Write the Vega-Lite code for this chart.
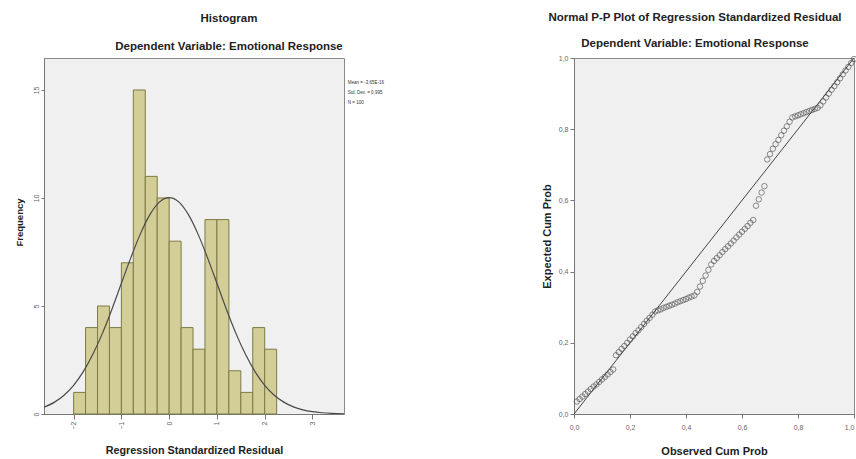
{
  "$schema": "https://vega.github.io/schema/vega-lite/v6.json",
  "background": "white",
  "padding": {"left": 13, "top": 11, "right": 0, "bottom": 0},
  "spacing": 155,
  "config": {
    "font": "Liberation Sans",
    "view": {"fill": "#f0f0f0", "stroke": "#8a8a8a", "strokeWidth": 1},
    "axis": {"labelFont": "Liberation Sans", "titleFont": "Liberation Sans", "grid": false, "domainColor": "#777", "tickColor": "#777", "labelColor": "#666", "titleColor": "#222"}
  },
  "hconcat": [
    {
      "width": 300,
      "height": 356,
      "title": {"text": "Histogram", "subtitle": "Dependent Variable: Emotional Response", "dx": 35, "fontSize": 11.5, "fontWeight": "bold", "color": "#222", "subtitleFontSize": 11.5, "subtitleFontWeight": "bold", "subtitleColor": "#222", "subtitlePadding": 16, "offset": 6},
      "layer": [
        {
          "data": {"values": [
            {"bin_start": -2.0, "bin_end": -1.75, "count": 1},
            {"bin_start": -1.75, "bin_end": -1.5, "count": 4},
            {"bin_start": -1.5, "bin_end": -1.25, "count": 5},
            {"bin_start": -1.25, "bin_end": -1.0, "count": 4},
            {"bin_start": -1.0, "bin_end": -0.75, "count": 7},
            {"bin_start": -0.75, "bin_end": -0.5, "count": 15},
            {"bin_start": -0.5, "bin_end": -0.25, "count": 11},
            {"bin_start": -0.25, "bin_end": 0.0, "count": 10},
            {"bin_start": 0.0, "bin_end": 0.25, "count": 8},
            {"bin_start": 0.25, "bin_end": 0.5, "count": 4},
            {"bin_start": 0.5, "bin_end": 0.75, "count": 3},
            {"bin_start": 0.75, "bin_end": 1.0, "count": 9},
            {"bin_start": 1.0, "bin_end": 1.25, "count": 9},
            {"bin_start": 1.25, "bin_end": 1.5, "count": 2},
            {"bin_start": 1.5, "bin_end": 1.75, "count": 1},
            {"bin_start": 1.75, "bin_end": 2.0, "count": 4},
            {"bin_start": 2.0, "bin_end": 2.25, "count": 3}
          ]},
          "mark": {"type": "rect", "fill": "#d3ce97", "stroke": "#7d7a45", "strokeWidth": 1},
          "encoding": {
            "x": {"field": "bin_start", "type": "quantitative", "scale": {"domain": [-2.62, 3.66], "nice": false, "zero": false},
              "axis": {"values": [-2, -1, 0, 1, 2, 3], "title": "Regression Standardized Residual", "titleFontSize": 10.8, "titleFontWeight": "bold", "titleY": 39, "titleBaseline": "alphabetic", "labelFontSize": 7, "labelAngle": -90, "labelPadding": 2, "tickSize": 5}},
            "x2": {"field": "bin_end"},
            "y": {"field": "count", "type": "quantitative", "scale": {"domain": [0, 16.48], "nice": false},
              "axis": {"values": [0, 5, 10, 15], "title": "Frequency", "titleFontSize": 9.5, "titleFontWeight": "bold", "titlePadding": 8, "titleY": 164, "labelFontSize": 7, "labelAngle": -90, "labelPadding": 2, "tickSize": 3}},
            "y2": {"datum": 0}
          }
        },
        {
          "data": {"values": [
            {"z": -2.62, "density": 0.31},
            {"z": -2.4, "density": 0.55},
            {"z": -2.2, "density": 0.87},
            {"z": -2.0, "density": 1.33},
            {"z": -1.8, "density": 1.95},
            {"z": -1.6, "density": 2.75},
            {"z": -1.4, "density": 3.72},
            {"z": -1.2, "density": 4.84},
            {"z": -1.0, "density": 6.05},
            {"z": -0.8, "density": 7.25},
            {"z": -0.6, "density": 8.35},
            {"z": -0.4, "density": 9.24},
            {"z": -0.2, "density": 9.82},
            {"z": 0.0, "density": 10.02},
            {"z": 0.2, "density": 9.82},
            {"z": 0.4, "density": 9.24},
            {"z": 0.6, "density": 8.35},
            {"z": 0.8, "density": 7.25},
            {"z": 1.0, "density": 6.05},
            {"z": 1.2, "density": 4.84},
            {"z": 1.4, "density": 3.72},
            {"z": 1.6, "density": 2.75},
            {"z": 1.8, "density": 1.95},
            {"z": 2.0, "density": 1.33},
            {"z": 2.2, "density": 0.87},
            {"z": 2.4, "density": 0.55},
            {"z": 2.6, "density": 0.33},
            {"z": 2.8, "density": 0.19},
            {"z": 3.0, "density": 0.106},
            {"z": 3.2, "density": 0.057},
            {"z": 3.4, "density": 0.029},
            {"z": 3.66, "density": 0.011}
          ]},
          "mark": {"type": "line", "color": "#4a4a4a", "strokeWidth": 1.2, "interpolate": "monotone", "clip": true},
          "encoding": {
            "x": {"field": "z", "type": "quantitative"},
            "y": {"field": "density", "type": "quantitative"}
          }
        },
        {
          "data": {"values": [{"stat": "summary"}]},
          "mark": {"type": "text", "align": "left", "baseline": "top", "fontSize": 4.5, "lineHeight": 10, "color": "#333"},
          "encoding": {
            "x": {"datum": 3.74, "type": "quantitative"},
            "y": {"datum": 15.45, "type": "quantitative"},
            "text": {"value": ["Mean = -3,65E-16", "Std. Dev. = 0,995", "N = 100"]}
          }
        }
      ]
    },
    {
      "width": 280,
      "height": 356,
      "title": {"text": "Normal P-P Plot of Regression Standardized Residual", "subtitle": "Dependent Variable: Emotional Response", "dx": -19, "fontSize": 11.5, "fontWeight": "bold", "color": "#222", "subtitleFontSize": 11.5, "subtitleFontWeight": "bold", "subtitleColor": "#222", "subtitlePadding": 14, "offset": 5},
      "layer": [
        {
          "data": {"values": [{"obs": 0, "exp": 0}, {"obs": 1, "exp": 1}]},
          "mark": {"type": "line", "color": "#444", "strokeWidth": 1},
          "encoding": {
            "x": {"field": "obs", "type": "quantitative", "scale": {"domain": [0, 1], "nice": false},
              "axis": {"values": [0, 0.2, 0.4, 0.6, 0.8, 1.0], "title": "Observed Cum Prob", "titleFontSize": 11, "titleFontWeight": "bold", "titleY": 40, "titleBaseline": "alphabetic", "labelFontSize": 7, "labelPadding": 5, "tickSize": 4,
                "labelExpr": "replace(format(datum.value, '.1f'), '.', ',')",
                "labelAlign": {"condition": {"test": "datum.value >= 1", "value": "right"}, "value": "center"}}},
            "y": {"field": "exp", "type": "quantitative", "scale": {"domain": [0, 1], "nice": false},
              "axis": {"values": [0, 0.2, 0.4, 0.6, 0.8, 1.0], "title": "Expected Cum Prob", "titleFontSize": 11, "titleFontWeight": "bold", "titlePadding": 6, "labelFontSize": 7, "labelPadding": 2, "tickSize": 4,
                "labelExpr": "replace(format(datum.value, '.1f'), '.', ',')"}}
          }
        },
        {
          "data": {"values": [
            {"obs": 0.01, "exp": 0.035}, {"obs": 0.02, "exp": 0.042}, {"obs": 0.03, "exp": 0.049}, {"obs": 0.04, "exp": 0.056}, {"obs": 0.05, "exp": 0.063},
            {"obs": 0.06, "exp": 0.070}, {"obs": 0.07, "exp": 0.077}, {"obs": 0.08, "exp": 0.083}, {"obs": 0.09, "exp": 0.090}, {"obs": 0.10, "exp": 0.097},
            {"obs": 0.11, "exp": 0.104}, {"obs": 0.12, "exp": 0.111}, {"obs": 0.13, "exp": 0.118}, {"obs": 0.14, "exp": 0.125}, {"obs": 0.15, "exp": 0.165},
            {"obs": 0.16, "exp": 0.174}, {"obs": 0.17, "exp": 0.183}, {"obs": 0.18, "exp": 0.191}, {"obs": 0.19, "exp": 0.200}, {"obs": 0.20, "exp": 0.209},
            {"obs": 0.21, "exp": 0.218}, {"obs": 0.22, "exp": 0.227}, {"obs": 0.23, "exp": 0.235}, {"obs": 0.24, "exp": 0.244}, {"obs": 0.25, "exp": 0.253},
            {"obs": 0.26, "exp": 0.262}, {"obs": 0.27, "exp": 0.270}, {"obs": 0.28, "exp": 0.279}, {"obs": 0.29, "exp": 0.288}, {"obs": 0.30, "exp": 0.291},
            {"obs": 0.31, "exp": 0.294}, {"obs": 0.32, "exp": 0.298}, {"obs": 0.33, "exp": 0.301}, {"obs": 0.34, "exp": 0.304}, {"obs": 0.35, "exp": 0.307},
            {"obs": 0.36, "exp": 0.310}, {"obs": 0.37, "exp": 0.314}, {"obs": 0.38, "exp": 0.317}, {"obs": 0.39, "exp": 0.320}, {"obs": 0.40, "exp": 0.323},
            {"obs": 0.41, "exp": 0.327}, {"obs": 0.42, "exp": 0.330}, {"obs": 0.43, "exp": 0.333}, {"obs": 0.44, "exp": 0.343}, {"obs": 0.45, "exp": 0.358},
            {"obs": 0.46, "exp": 0.374}, {"obs": 0.47, "exp": 0.389}, {"obs": 0.48, "exp": 0.405}, {"obs": 0.49, "exp": 0.420}, {"obs": 0.50, "exp": 0.430},
            {"obs": 0.51, "exp": 0.438}, {"obs": 0.52, "exp": 0.446}, {"obs": 0.53, "exp": 0.455}, {"obs": 0.54, "exp": 0.463}, {"obs": 0.55, "exp": 0.471},
            {"obs": 0.56, "exp": 0.479}, {"obs": 0.57, "exp": 0.487}, {"obs": 0.58, "exp": 0.496}, {"obs": 0.59, "exp": 0.504}, {"obs": 0.60, "exp": 0.512},
            {"obs": 0.61, "exp": 0.520}, {"obs": 0.62, "exp": 0.528}, {"obs": 0.63, "exp": 0.537}, {"obs": 0.64, "exp": 0.545}, {"obs": 0.65, "exp": 0.585},
            {"obs": 0.66, "exp": 0.603}, {"obs": 0.67, "exp": 0.622}, {"obs": 0.68, "exp": 0.640}, {"obs": 0.69, "exp": 0.715}, {"obs": 0.70, "exp": 0.730},
            {"obs": 0.71, "exp": 0.745}, {"obs": 0.72, "exp": 0.758}, {"obs": 0.73, "exp": 0.770}, {"obs": 0.74, "exp": 0.783}, {"obs": 0.75, "exp": 0.796},
            {"obs": 0.76, "exp": 0.808}, {"obs": 0.77, "exp": 0.821}, {"obs": 0.78, "exp": 0.833}, {"obs": 0.79, "exp": 0.836}, {"obs": 0.80, "exp": 0.839},
            {"obs": 0.81, "exp": 0.842}, {"obs": 0.82, "exp": 0.845}, {"obs": 0.83, "exp": 0.848}, {"obs": 0.84, "exp": 0.851}, {"obs": 0.85, "exp": 0.854},
            {"obs": 0.86, "exp": 0.857}, {"obs": 0.87, "exp": 0.860}, {"obs": 0.88, "exp": 0.867}, {"obs": 0.89, "exp": 0.878}, {"obs": 0.90, "exp": 0.889},
            {"obs": 0.91, "exp": 0.900}, {"obs": 0.92, "exp": 0.911}, {"obs": 0.93, "exp": 0.921}, {"obs": 0.94, "exp": 0.932}, {"obs": 0.95, "exp": 0.943},
            {"obs": 0.96, "exp": 0.954}, {"obs": 0.97, "exp": 0.965}, {"obs": 0.98, "exp": 0.975}, {"obs": 0.99, "exp": 0.986}, {"obs": 1.00, "exp": 0.997}
          ]},
          "mark": {"type": "point", "shape": "circle", "filled": false, "size": 30, "stroke": "#4a4a4a", "strokeWidth": 0.9, "clip": false},
          "encoding": {
            "x": {"field": "obs", "type": "quantitative"},
            "y": {"field": "exp", "type": "quantitative"}
          }
        }
      ]
    }
  ]
}
